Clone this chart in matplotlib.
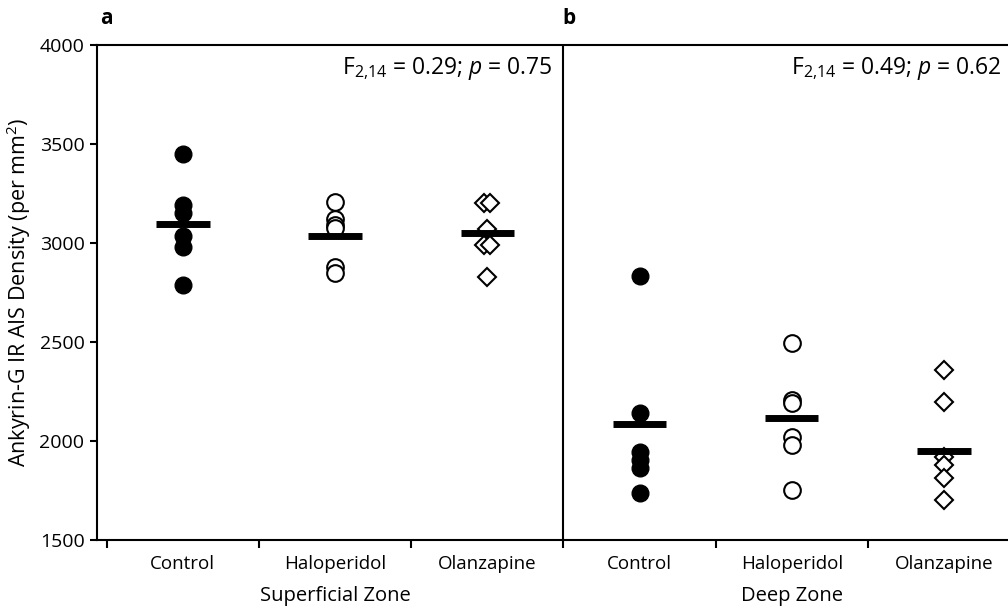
import matplotlib

matplotlib.use("Agg")
import matplotlib.pyplot as plt
import matplotlib.transforms as mtransforms

# values (AIS density per mm^2)
categories = ["Control", "Haloperidol", "Olanzapine", "Control", "Haloperidol", "Olanzapine"]
zones = ["Superficial Zone", "Deep Zone"]

sup_control = [3450, 3190, 3150, 3035, 2980, 2790]
sup_haloperidol = [3209, 3120, 3090, 3075, 2880, 2847]
sup_olanzapine = [3200, 3200, 3070, 2990, 2990, 2827]
deep_control = [2833, 2140, 1946, 1905, 1862, 1739]
deep_haloperidol = [2493, 2207, 2193, 2022, 1980, 1753]
deep_olanzapine = [2359, 2195, 1921, 1879, 1811, 1702]

group_means = [3096, 3037, 3049, 2084, 2115, 1950]
stats_text = [r"F$_{2{,}14}$ = 0.29; $p$ = 0.75", r"F$_{2{,}14}$ = 0.49; $p$ = 0.62"]

yticks = [1500, 2000, 2500, 3000, 3500, 4000]

plt.rcParams["font.family"] = ["Open Sans", "DejaVu Sans"]
plt.rcParams["mathtext.fontset"] = "custom"
plt.rcParams["mathtext.rm"] = "Open Sans"
plt.rcParams["mathtext.it"] = "Open Sans:italic"

fig = plt.figure(figsize=(10.08, 6.08), dpi=100)
ax = fig.add_axes([97 / 1008, 1 - 540 / 608, 1 - 97 / 1008, (540 - 45) / 608])

groups = [sup_control, sup_haloperidol, sup_olanzapine,
          deep_control, deep_haloperidol, deep_olanzapine]
styles = [
    dict(marker="o", mfc="black", mec="black", ms=12),
    dict(marker="o", mfc="white", mec="black", ms=12, mew=1.5),
    dict(marker="D", mfc="white", mec="black", ms=9, mew=1.5),
]
# small sideways nudge used in the original for coincident diamonds
nudge = {2: [-0.02, 0.02, 0, -0.02, 0.02, 0]}

for i, values in enumerate(groups):
    xc = i + 0.5
    offs = nudge.get(i, [0] * len(values))
    xs = [xc + o for o in offs]
    ax.plot(xs, values, linestyle="none", zorder=3, **styles[i % 3])
    ax.hlines(group_means[i], xc - 0.175, xc + 0.175, color="black", linewidth=5, zorder=4)

ax.set_xlim(-0.064, 5.92)
ax.set_ylim(1500, 4000)
ax.set_yticks(yticks)
ax.tick_params(axis="y", labelsize=14, length=5, width=1.5, direction="out", pad=4)

ax.set_xticks([0, 1, 2, 3, 4, 5])
ax.set_xticklabels([])
ax.set_xticks([i + 0.5 for i in range(6)], minor=True)
ax.set_xticklabels(categories, minor=True)
ax.tick_params(axis="x", which="major", length=6, width=1.5, direction="out")
ax.tick_params(axis="x", which="minor", length=0, labelsize=13.5, pad=11)

for side in ["left", "bottom", "top"]:
    ax.spines[side].set_linewidth(1.5)
ax.spines["right"].set_visible(False)
ax.axvline(3, color="black", linewidth=1.5)

ax.set_ylabel("Ankyrin-G IR AIS Density (per mm$^2$)", fontsize=15.5, labelpad=5)

trans = mtransforms.blended_transform_factory(ax.transData, ax.transAxes)
ax.text(1.5, -0.113, zones[0], transform=trans, ha="center", va="center", fontsize=14.5)
ax.text(4.5, -0.113, zones[1], transform=trans, ha="center", va="center", fontsize=14.5)

ax.text(2.93, 0.953, stats_text[0], transform=trans, ha="right", va="center", fontsize=16.5)
ax.text(5.88, 0.953, stats_text[1], transform=trans, ha="right", va="center", fontsize=16.5)

fig.text(100 / 1008, 1 - 18 / 608, "a", fontsize=15, fontweight="bold", va="center")
fig.text(562 / 1008, 1 - 18 / 608, "b", fontsize=15, fontweight="bold", va="center")

fig.savefig("out.png", dpi=100)
